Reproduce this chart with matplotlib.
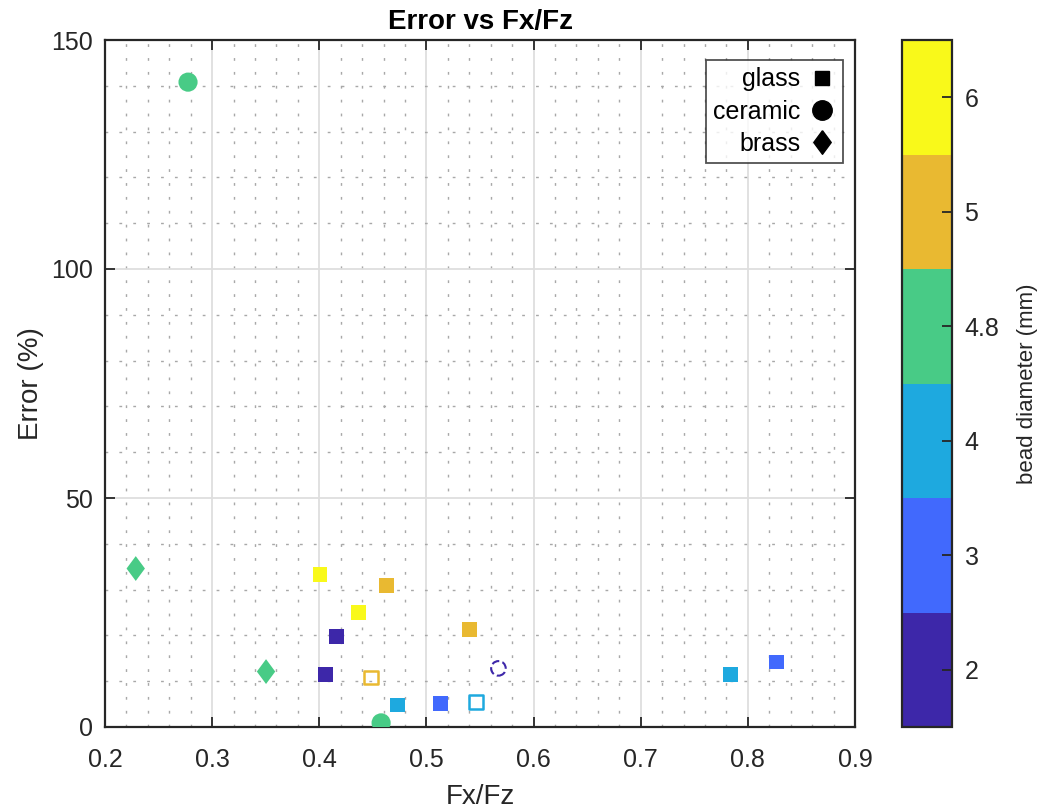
import numpy as np
import matplotlib
matplotlib.use("Agg")
import matplotlib.pyplot as plt
from matplotlib.colors import ListedColormap, BoundaryNorm
from matplotlib.lines import Line2D

plt.rcParams['font.family'] = ['Liberation Sans', 'DejaVu Sans']

# bead diameter classes and their colours
diam_labels = ["2", "3", "4", "4.8", "5", "6"]
diam_colors = ["#3d27a9", "#4169fd", "#1ea9df", "#48cb86", "#e9b931", "#f9f91a"]

# glass (filled squares)
glass_x = [0.4007, 0.4368, 0.4627, 0.5401, 0.4163, 0.4054, 0.4729, 0.7835, 0.5128, 0.8265]
glass_y = [33.3, 25.0, 30.9, 21.3, 19.7, 11.5, 4.8, 11.4, 5.1, 14.2]
glass_d = ["6", "6", "5", "5", "2", "2", "4", "4", "3", "3"]

# glass (open squares)
glass_open_x = [0.4483, 0.5464]
glass_open_y = [10.8, 5.4]
glass_open_d = ["5", "4"]

# glass (dashed outline)
glass_dash_x = [0.5672]
glass_dash_y = [12.8]
glass_dash_d = ["2"]

# ceramic (circles)
ceramic_x = [0.2775, 0.4577]
ceramic_y = [140.8, 0.9]
ceramic_d = ["4.8", "4.8"]

# brass (diamonds)
brass_x = [0.2287, 0.3503]
brass_y = [34.6, 12.1]
brass_d = ["4.8", "4.8"]

cmap = ListedColormap(diam_colors)
norm = BoundaryNorm(np.arange(len(diam_labels) + 1) - 0.5, cmap.N)

def idx(ds):
    return [diam_labels.index(d) for d in ds]

diamond = [(0, 1), (0.74, 0), (0, -1), (-0.74, 0), (0, 1)]
dark = '#262626'

fig = plt.figure(figsize=(10.41, 8.11), dpi=100)
ax = fig.add_axes([105/1041, 84/811, 750/1041, 687/811])

ax.scatter(glass_x, glass_y, c=idx(glass_d), cmap=cmap, norm=norm, marker='s', s=115, linewidths=0, zorder=3)
ax.scatter(glass_open_x, glass_open_y, facecolors='none', edgecolors=cmap(norm(idx(glass_open_d))),
           marker='s', s=95, linewidths=1.8, zorder=3)
ax.scatter(glass_dash_x, glass_dash_y, facecolors='none', edgecolors=cmap(norm(idx(glass_dash_d))),
           marker='o', s=110, linewidths=1.5, linestyles='--', zorder=3)
ax.scatter(ceramic_x, ceramic_y, c=idx(ceramic_d), cmap=cmap, norm=norm, marker='o', s=190, linewidths=0, zorder=3)
ax.scatter(brass_x, brass_y, c=idx(brass_d), cmap=cmap, norm=norm, marker=diamond, s=320, linewidths=0, zorder=3)

ax.set_xlim(0.2, 0.9)
ax.set_ylim(0, 150)
ax.set_xticks(np.arange(0.2, 0.91, 0.1))
ax.set_xticklabels(["0.2", "0.3", "0.4", "0.5", "0.6", "0.7", "0.8", "0.9"])
ax.set_yticks([0, 50, 100, 150])
ax.set_xticks(np.arange(0.2, 0.9, 0.02), minor=True)
ax.set_yticks(np.arange(0, 150, 10), minor=True)
ax.grid(which='major', color='#dedede', linewidth=1.3, zorder=0)
ax.grid(which='minor', color='#a8a8a8', linestyle=(0, (2, 8)), linewidth=1.0, zorder=0)
ax.set_axisbelow(True)
ax.tick_params(which='both', direction='in', top=True, right=True, labelsize=18, colors=dark)
ax.tick_params(which='major', length=7, width=1.3)
ax.tick_params(axis='x', which='major', pad=15)
ax.tick_params(axis='y', which='major', pad=9)
ax.tick_params(which='minor', length=0)
for s in ax.spines.values():
    s.set_color(dark)
    s.set_linewidth(1.6)

ax.set_title("Error vs Fx/Fz", fontsize=20, fontweight='bold', pad=8)
ax.set_xlabel("Fx/Fz", fontsize=20, color=dark, labelpad=9)
ax.set_ylabel("Error (%)", fontsize=20, color=dark, labelpad=5)

handles = [
    Line2D([], [], linestyle='none', marker='s', color='black', markersize=10),
    Line2D([], [], linestyle='none', marker='o', color='black', markersize=14),
    Line2D([], [], linestyle='none', marker=diamond, color='black', markersize=17),
]
leg = ax.legend(handles, ["glass", "ceramic", "brass"], loc='upper right', markerfirst=False,
                fontsize=18, frameon=True, fancybox=False, edgecolor=dark,
                bbox_to_anchor=(0.984, 0.971), handletextpad=0.35, borderpad=0.3,
                labelspacing=0.33, handlelength=1.05, borderaxespad=0)
leg.get_frame().set_linewidth(1.3)

cax = fig.add_axes([902/1041, 84/811, 50/1041, 687/811])
sm = plt.cm.ScalarMappable(cmap=cmap, norm=norm)
cb = fig.colorbar(sm, cax=cax, ticks=np.arange(len(diam_labels)))
cb.ax.minorticks_off()
cb.ax.set_yticklabels(diam_labels)
cb.ax.tick_params(direction='in', length=7, width=1.3, labelsize=18, colors=dark, pad=9)
cb.outline.set_linewidth(1.6)
cb.outline.set_edgecolor(dark)
cb.set_label("bead diameter (mm)", fontsize=16, color=dark, labelpad=13)

fig.savefig("out.png", dpi=100)
